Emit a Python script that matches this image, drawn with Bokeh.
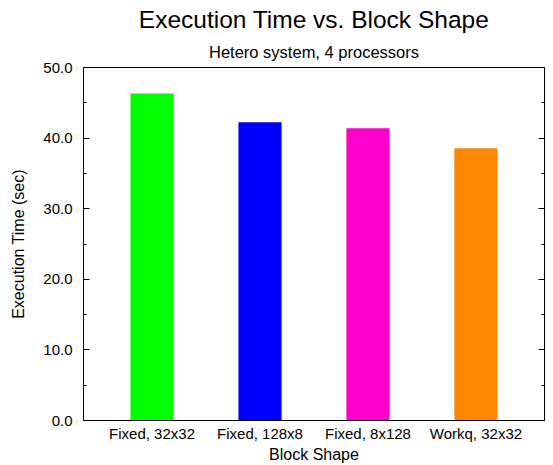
from bokeh.plotting import figure
from bokeh.models import (FactorRange, Range1d, LinearAxis, FixedTicker,
                          PrintfTickFormatter, Title, ColumnDataSource,
                          CustomLabelingPolicy)
from bokeh.embed import file_html
from bokeh.resources import INLINE

# ---- data ----
categories = ["Fixed, 32x32", "Fixed, 128x8", "Fixed, 8x128", "Workq, 32x32"]
exec_times = [46.3, 42.25, 41.4, 38.55]
bar_colors = ["#00FF00", "#0000FF", "#FF00CC", "#FF8800"]
y_ticks = [0, 10, 20, 30, 40, 50]
y_minor_ticks = [5, 15, 25, 35, 45]

FONT = "Liberation Sans"

source = ColumnDataSource(dict(shape=categories, time=exec_times, color=bar_colors))

W, H = 553, 465
FL, FR, FT, FB = 83, 544, 67, 420   # frame edges in canvas pixels

p = figure(width=W, height=H,
           x_range=FactorRange(*categories, range_padding=0.135,
                               range_padding_units="absolute"),
           y_range=Range1d(0, 50),
           output_backend="svg", toolbar_location=None, title=None,
           min_border_left=FL, min_border_right=W - FR,
           min_border_top=FT, min_border_bottom=H - FB)

p.background_fill_color = "white"
p.border_fill_color = "white"
p.outline_line_color = "black"
p.outline_line_alpha = 1.0
p.outline_line_width = 1
p.xgrid.visible = False
p.ygrid.visible = False

p.vbar(x="shape", top="time", width=0.4, fill_color="color",
       line_color=None, source=source)

# y axis (left)
ya = p.yaxis[0]
ya.ticker = FixedTicker(ticks=y_ticks, minor_ticks=y_minor_ticks)
ya.formatter = PrintfTickFormatter(format="%.1f")
ya.major_tick_in = 6
ya.major_tick_out = 0
ya.minor_tick_in = 3
ya.minor_tick_out = 0
ya.major_tick_line_color = "black"
ya.minor_tick_line_color = "black"
ya.axis_line_color = "black"
ya.major_label_standoff = 11
ya.major_label_text_font = FONT
ya.major_label_text_font_size = "15px"
ya.major_label_text_color = "black"
ya.axis_label = "Execution Time (sec)"
ya.axis_label_text_font = FONT
ya.axis_label_text_font_size = "16px"
ya.axis_label_text_font_style = "normal"
ya.axis_label_text_color = "black"
ya.axis_label_standoff = 13

# right axis: ticks only, no labels
ra = LinearAxis(ticker=FixedTicker(ticks=y_ticks, minor_ticks=y_minor_ticks),
                major_label_text_font_size="0px", major_label_standoff=0,
                major_label_policy=CustomLabelingPolicy(
                    code="for (const i of indices) indices.unset(i)"),
                major_tick_in=6, major_tick_out=0,
                minor_tick_in=3, minor_tick_out=0,
                axis_line_color="black", major_tick_line_color="black",
                minor_tick_line_color="black")
p.add_layout(ra, "right")

# x axis
xa = p.xaxis[0]
xa.major_tick_in = 0
xa.major_tick_out = 0
xa.major_tick_line_color = None
xa.axis_line_color = "black"
xa.major_label_standoff = 4
xa.major_label_text_font = FONT
xa.major_label_text_font_size = "15px"
xa.major_label_text_color = "black"
xa.axis_label = "Block Shape"
xa.axis_label_text_font = FONT
xa.axis_label_text_font_size = "16px"
xa.axis_label_text_font_style = "normal"
xa.axis_label_text_color = "black"
xa.axis_label_standoff = 1

# titles (subtitle added first -> closest to the plot)
sub = Title(text="Hetero system, 4 processors", align="center",
            text_font=FONT, text_font_size="16.5px", text_font_style="normal",
            text_color="black", standoff=13)
p.add_layout(sub, "above")
main = Title(text="Execution Time vs. Block Shape", align="center",
             text_font=FONT, text_font_size="24.5px", text_font_style="normal",
             text_color="black", standoff=4)
p.add_layout(main, "above")

open("out.html", "w").write(file_html(p, INLINE))
